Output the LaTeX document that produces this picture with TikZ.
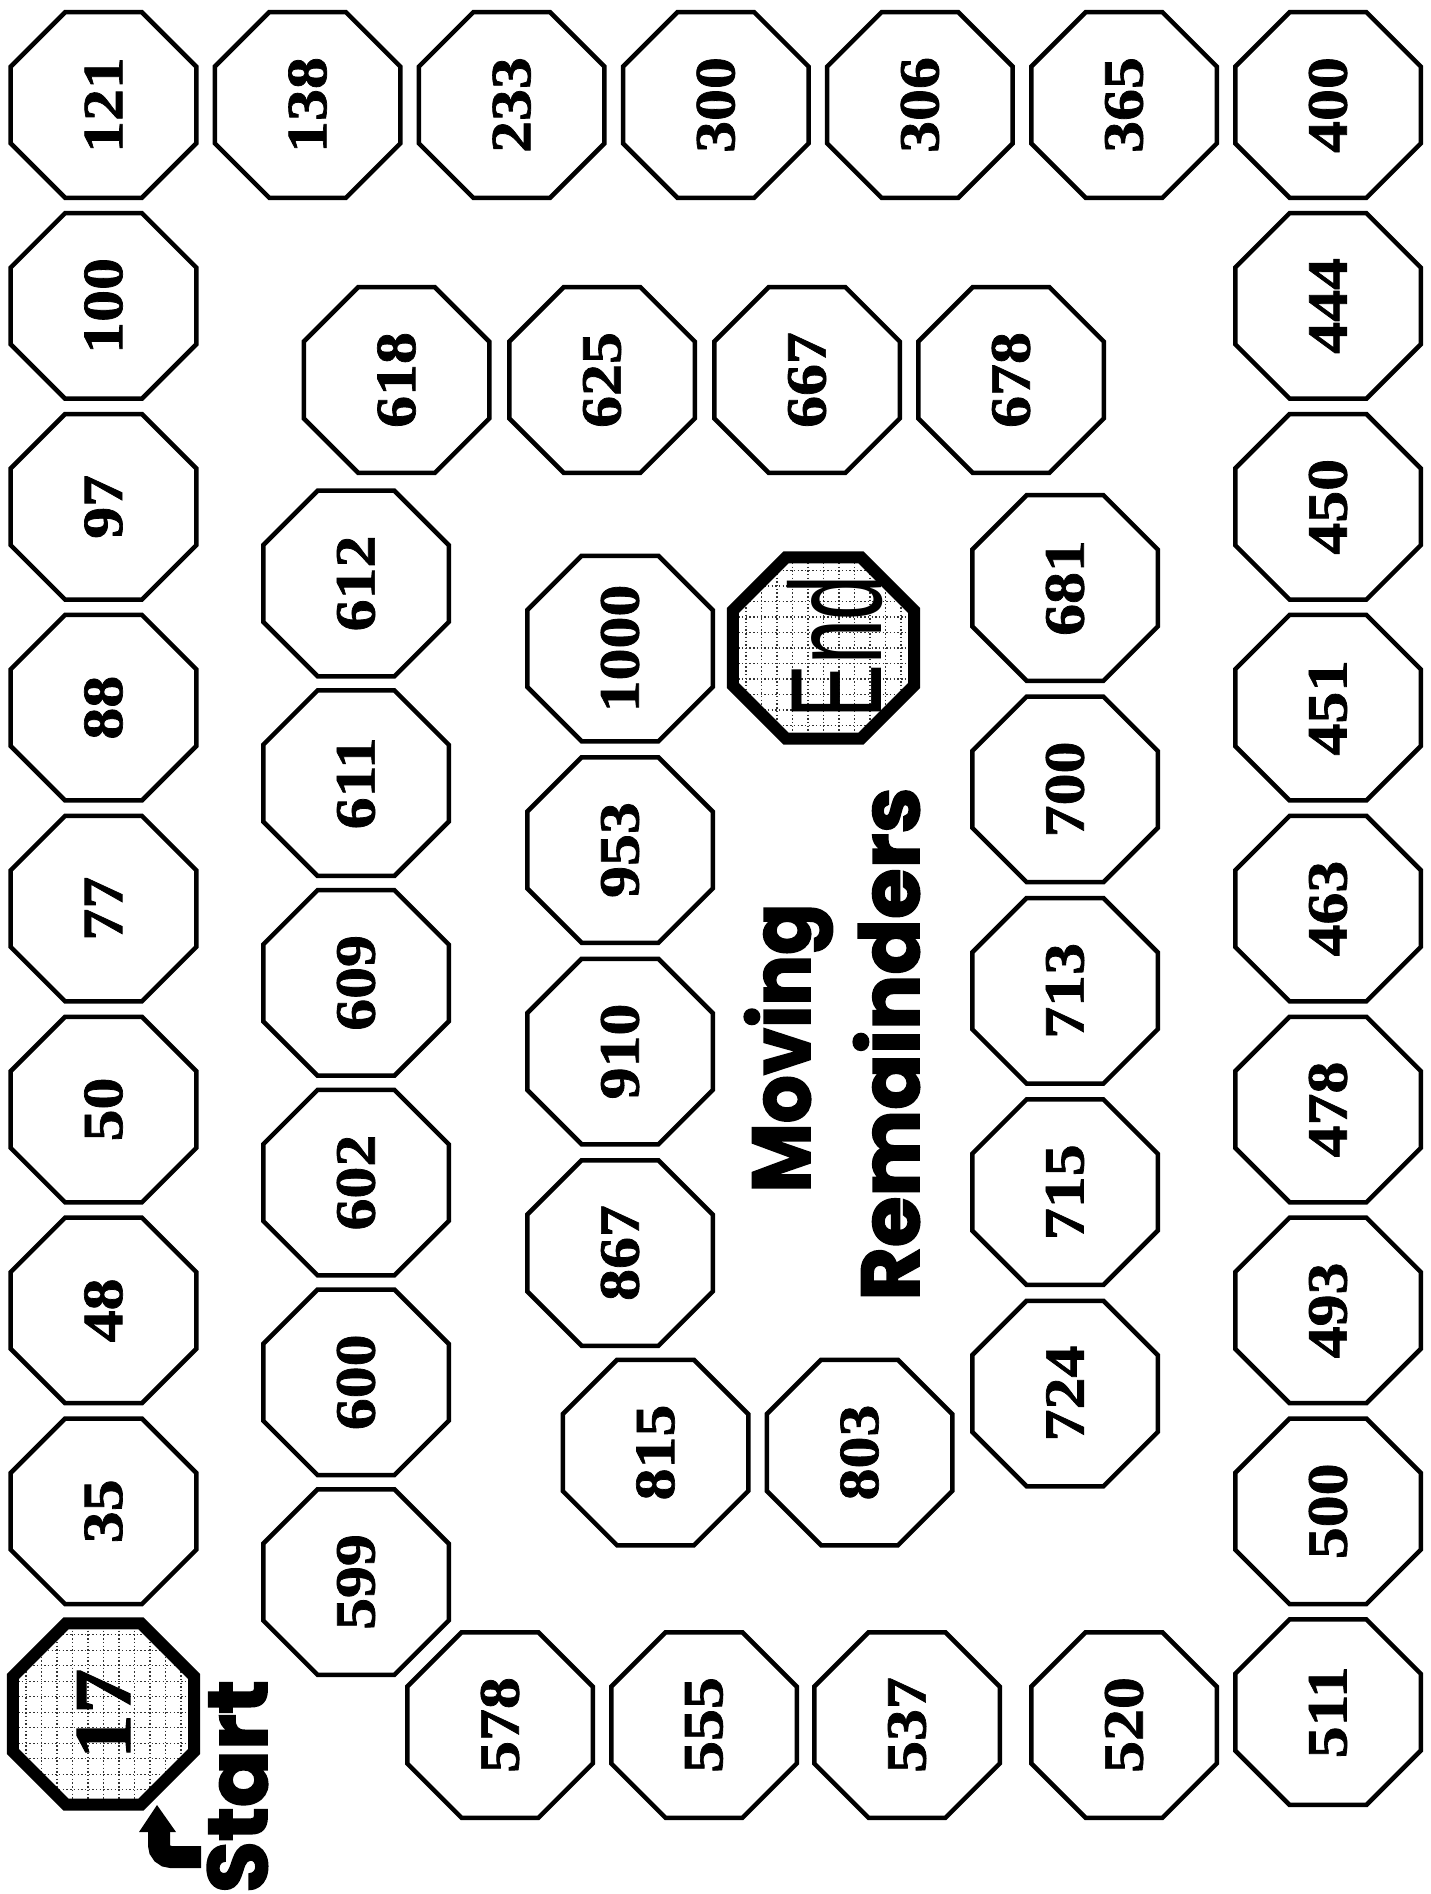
\documentclass[tikz,border=0pt]{standalone}
\usepackage{fontspec}
\setmainfont{Liberation Serif}[BoldFeatures={FakeBold=1.2}]
\newfontfamily\titlefont{Poppins}[BoldFeatures={FakeBold=2.2}]
\newfontfamily\endfont{Liberation Sans}
\usetikzlibrary{shapes.geometric}
\newcommand\numtxt[1]{\scalebox{1.12}[1]{#1}}
\newcommand\gridoct[2]{%
  \begin{scope}[shift={(#1,#2)}]
    \clip (-37.5,-90.5) -- (37.5,-90.5) -- (90.5,-37.5) -- (90.5,37.5) -- (37.5,90.5)
      -- (-37.5,90.5) -- (-90.5,37.5) -- (-90.5,-37.5) -- cycle;
    \fill[white] (-100,-100) rectangle (100,100);
    \foreach \k in {-7,...,7}{
      \draw[gridline] (\k*15.5,-100) -- (\k*15.5,100);
      \draw[gridline] (-100,\k*15.5) -- (100,\k*15.5);
    }
  \end{scope}}
\tikzset{
  gridline/.style={black!80, line width=1.4pt, dash pattern=on 1.4pt off 2.3pt},
  oct/.style={regular polygon, regular polygon sides=8, minimum size=200.8pt, inner sep=0pt,
    draw=black, line width=4.5pt, fill=white, rotate=90,
    font=\fontsize{57}{57}\selectfont\bfseries},
  octspecial/.style={oct, minimum size=196pt, line width=12pt, fill=none},
  titletext/.style={rotate=90, anchor=base, inner sep=0pt,
    font=\titlefont\bfseries\fontsize{82}{82}\selectfont},
}
\begin{document}
\begin{tikzpicture}[x=1pt, y=-1pt]
\useasboundingbox[fill=white] (0,0) rectangle (1431,1894);
% outer left column
\gridoct{103.5}{1712.2}
\node[octspecial, font=\fontsize{81}{81}\selectfont\bfseries] (n17) at (103.5,1714) {\numtxt{17}};
\foreach \name/\yy in {121/105, 100/305.9, 97/506.8, 88/707.7, 77/908.6, 50/1109.5, 48/1310.4, 35/1511.3}
  \node[oct] (n\name) at (103.5,\yy) {\numtxt{\name}};
% top row
\foreach \name/\xx in {138/307.6, 233/511.7, 300/715.8, 306/919.9, 365/1124, 400/1328}
  \node[oct] (n\name) at (\xx,105) {\numtxt{\name}};
% right column
\foreach \name/\yy in {444/305.9, 450/506.8, 451/707.7, 463/908.6, 478/1109.5, 493/1310.4, 500/1511.3, 511/1712.2}
  \node[oct] (n\name) at (1328,\yy) {\numtxt{\name}};
% bottom row
\foreach \name/\xx in {578/500, 555/704, 537/907, 520/1124}
  \node[oct] (n\name) at (\xx,1725) {\numtxt{\name}};
% inner left column
\foreach \name/\yy in {612/583.5, 611/783.2, 609/982.9, 602/1182.6, 600/1382.3, 599/1582}
  \node[oct] (n\name) at (356,\yy) {\numtxt{\name}};
% inner top row
\foreach \name/\xx in {618/396.5, 625/602, 667/807, 678/1011}
  \node[oct] (n\name) at (\xx,380) {\numtxt{\name}};
% inner right column
\foreach \name/\yy in {681/588, 700/789.4, 713/990.8, 715/1192.2, 724/1393.5}
  \node[oct] (n\name) at (1065,\yy) {\numtxt{\name}};
% inner bottom
\foreach \name/\xx in {815/655.5, 803/859.5}
  \node[oct] (n\name) at (\xx,1452.5) {\numtxt{\name}};
% middle column
\foreach \name/\yy in {1000/648.5, 953/850, 910/1051.5, 867/1253}
  \node[oct] (n\name) at (620,\yy) {\numtxt{\name}};
% end
\gridoct{823.5}{648}
\node[octspecial] (endoct) at (823.5,648) {};
\node[rotate=90, anchor=base, inner sep=0pt] (endtext) at (881,647)
  {\endfont\scalebox{0.62}[1]{\fontsize{130}{130}\selectfont End}};
% title
\node[titletext] (title1) at (810,1048) {\scalebox{0.92}[1]{Moving}};
\node[titletext] (title2) at (919,1044) {Remainders};
% start
\node[rotate=90, anchor=base west, inner sep=0pt,
  font=\titlefont\bfseries\fontsize{84}{84}\selectfont] (start) at (267,1893) {Start};
\coordinate (arrA) at (201,1857);
\coordinate (arrB) at (159,1857);
\coordinate (arrC) at (159,1829);
\coordinate (arrTip) at (157,1805);
\draw[line width=22pt, rounded corners=12pt] (arrA) -- (arrB) -- (arrC);
\fill (arrTip) -- (139,1832) -- (176,1832) -- cycle;
\end{tikzpicture}
\end{document}
